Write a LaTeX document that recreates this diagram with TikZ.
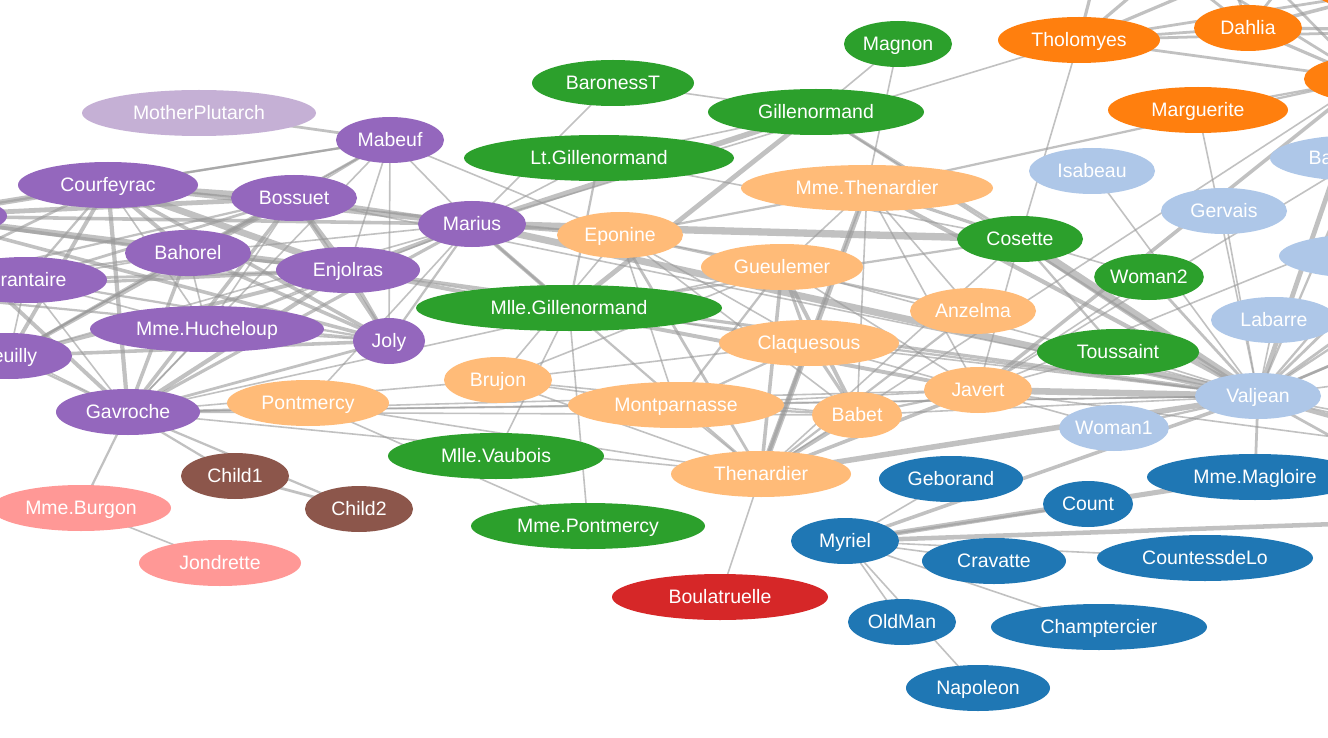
\documentclass[tikz,border=0pt]{standalone}
\usepackage{fontspec}
\newfontfamily\labfont{Liberation Sans}
\usetikzlibrary{shapes.geometric}
\pgfdeclarelayer{edges}
\pgfsetlayers{edges,main}
\definecolor{gA}{HTML}{1F77B4}
\definecolor{gB}{HTML}{AEC7E8}
\definecolor{gC}{HTML}{FF7F0E}
\definecolor{gD}{HTML}{FFBB78}
\definecolor{gE}{HTML}{2CA02C}
\definecolor{gF}{HTML}{98DF8A}
\definecolor{gG}{HTML}{D62728}
\definecolor{gH}{HTML}{FF9896}
\definecolor{gI}{HTML}{9467BD}
\definecolor{gJ}{HTML}{C5B0D5}
\definecolor{gK}{HTML}{8C564B}
\definecolor{linkgray}{HTML}{999999}
\tikzset{
  person/.style 2 args={ellipse, fill=#1, minimum width={#2*1.5pt}, minimum height=34.5pt,
    inner sep=0pt, text=white, font=\labfont\fontsize{14.6}{16}\selectfont,
    text height=11.6pt, text depth=1.2pt},
  link/.style={draw=linkgray, draw opacity=0.6, line cap=butt},
}
\begin{document}
\begin{tikzpicture}[x=0.75pt, y=-0.75pt]
\useasboundingbox (0,0) rectangle (1328,738);
\begin{scope}
\clip (0,0) rectangle (1328,738);
% group 1
\node[person={gA}{54}] (Myriel) at (845,541) {Myriel};
\node[person={gA}{72}] (Napoleon) at (978,688) {Napoleon};
\node[person={gA}{135}] (Baptistine) at (1480,519) {Mlle.Baptistine};
\node[person={gA}{108}] (Magloire) at (1255,477) {Mme.Magloire};
\node[person={gA}{108}] (CountessdeLo) at (1205,558) {CountessdeLo};
\node[person={gA}{72}] (Geborand) at (951,479) {Geborand};
\node[person={gA}{108}] (Champtercier) at (1099,627) {Champtercier};
\node[person={gA}{72}] (Cravatte) at (994,561) {Cravatte};
\node[person={gA}{45}] (Count) at (1088,504) {Count};
\node[person={gA}{54}] (OldMan) at (902,622) {OldMan};
% group 2
\node[person={gB}{63}] (Labarre) at (1274,320) {Labarre};
\node[person={gB}{63}] (Valjean) at (1258,396) {Valjean};
\node[person={gB}{63}] (MmedeR) at (1440,430) {Mme.deR};
\node[person={gB}{63}] (Isabeau) at (1092,171) {Isabeau};
\node[person={gB}{63}] (Gervais) at (1224,211) {Gervais};
\node[person={gB}{90}] (Bamatabois) at (1360,158) {Bamatabois};
\node[person={gB}{72}] (Simplice) at (1470,190) {Simplice};
\node[person={gB}{99}] (Scaufflaire) at (1450,370) {Scaufflaire};
\node[person={gB}{54}] (Woman1) at (1114,428) {Woman1};
\node[person={gB}{45}] (Judge) at (1480,235) {Judge};
\node[person={gB}{108}] (Champmathieu) at (1520,285) {Champmathieu};
\node[person={gB}{54}] (Brevet) at (1450,315) {Brevet};
\node[person={gB}{90}] (Chenildieu) at (1540,210) {Chenildieu};
\node[person={gB}{99}] (Cochepaille) at (1378,256) {Cochepaille};
% group 3
\node[person={gC}{90}] (Marguerite) at (1198,110) {Marguerite};
\node[person={gC}{81}] (Tholomyes) at (1079,40) {Tholomyes};
\node[person={gC}{81}] (Listolier) at (1110,-80) {Listolier};
\node[person={gC}{63}] (Fameuil) at (1215,-75) {Fameuil};
\node[person={gC}{99}] (Blacheville) at (1320,-62) {Blacheville};
\node[person={gC}{81}] (Favourite) at (1395,-10) {Favourite};
\node[person={gC}{54}] (Dahlia) at (1248,28) {Dahlia};
\node[person={gC}{63}] (Zephine) at (1455,30) {Zephine};
\node[person={gC}{63}] (Fantine) at (1367,79) {Fantine};
\node[person={gC}{72}] (Perpetue) at (1490,110) {Perpetue};
% group 4
\node[person={gD}{126}] (MmeThenardier) at (867,188) {Mme.Thenardier};
\node[person={gD}{90}] (Thenardier) at (761,474) {Thenardier};
\node[person={gD}{54}] (Javert) at (978,390) {Javert};
\node[person={gD}{81}] (Pontmercy) at (308,403) {Pontmercy};
\node[person={gD}{63}] (Eponine) at (620,235) {Eponine};
\node[person={gD}{63}] (Anzelma) at (973,311) {Anzelma};
\node[person={gD}{81}] (Gueulemer) at (782,267) {Gueulemer};
\node[person={gD}{45}] (Babet) at (857,415) {Babet};
\node[person={gD}{90}] (Claquesous) at (809,343) {Claquesous};
\node[person={gD}{108}] (Montparnasse) at (676,405) {Montparnasse};
\node[person={gD}{54}] (Brujon) at (498,380) {Brujon};
% group 5
\node[person={gE}{63}] (Cosette) at (1020,239) {Cosette};
\node[person={gE}{54}] (Woman2) at (1149,277) {Woman2};
\node[person={gE}{108}] (Gillenormand) at (816,112) {Gillenormand};
\node[person={gE}{54}] (Magnon) at (898,44) {Magnon};
\node[person={gE}{153}] (MlleGillenormand) at (569,308) {Mlle.Gillenormand};
\node[person={gE}{117}] (MmePontmercy) at (588,526) {Mme.Pontmercy};
\node[person={gE}{108}] (MlleVaubois) at (496,456) {Mlle.Vaubois};
\node[person={gE}{135}] (LtGillenormand) at (599,158) {Lt.Gillenormand};
\node[person={gE}{81}] (BaronessT) at (613,83) {BaronessT};
\node[person={gE}{81}] (Toussaint) at (1118,352) {Toussaint};
% group 0
\node[person={gF}{108}] (Fauchelevent) at (1470,455) {Fauchelevent};
\node[person={gF}{126}] (MotherInnocent) at (1580,470) {MotherInnocent};
\node[person={gF}{63}] (Gribier) at (1590,540) {Gribier};
% others
\node[person={gG}{108}] (Boulatruelle) at (720,597) {Boulatruelle};
\node[person={gH}{81}] (Jondrette) at (220,563) {Jondrette};
\node[person={gH}{90}] (MmeBurgon) at (81,508) {Mme.Burgon};
\node[person={gJ}{117}] (MotherPlutarch) at (199,113) {MotherPlutarch};
\node[person={gK}{54}] (Child1) at (235,476) {Child1};
\node[person={gK}{54}] (Child2) at (359,509) {Child2};
% group 8
\node[person={gI}{72}] (Gavroche) at (128,412) {Gavroche};
\node[person={gI}{54}] (Marius) at (472,224) {Marius};
\node[person={gI}{54}] (Mabeuf) at (390,140) {Mabeuf};
\node[person={gI}{72}] (Enjolras) at (348,270) {Enjolras};
\node[person={gI}{90}] (Combeferre) at (-83,216) {Combeferre};
\node[person={gI}{81}] (Prouvaire) at (-110,292) {Prouvaire};
\node[person={gI}{63}] (Feuilly) at (9,356) {Feuilly};
\node[person={gI}{90}] (Courfeyrac) at (108,185) {Courfeyrac};
\node[person={gI}{63}] (Bahorel) at (188,253) {Bahorel};
\node[person={gI}{63}] (Bossuet) at (294,198) {Bossuet};
\node[person={gI}{36}] (Joly) at (389,341) {Joly};
\node[person={gI}{81}] (Grantaire) at (26,280) {Grantaire};
\node[person={gI}{117}] (MmeHucheloup) at (207,329) {Mme.Hucheloup};
\end{scope}
\begin{pgfonlayer}{edges}
\fill[white] (0,0) rectangle (1328,738);
\clip (0,0) rectangle (1328,738);
\foreach \a/\b/\v in {
Napoleon/Myriel/1, Baptistine/Myriel/8, Magloire/Myriel/10, Magloire/Baptistine/6, CountessdeLo/Myriel/1, Geborand/Myriel/1, Champtercier/Myriel/1, Cravatte/Myriel/1, Count/Myriel/2, OldMan/Myriel/1,
Valjean/Labarre/1, Valjean/Magloire/3, Valjean/Baptistine/3, Valjean/Myriel/5, Marguerite/Valjean/1, MmedeR/Valjean/1, Isabeau/Valjean/1, Gervais/Valjean/1,
Listolier/Tholomyes/4, Fameuil/Tholomyes/4, Fameuil/Listolier/4, Blacheville/Tholomyes/4, Blacheville/Listolier/4, Blacheville/Fameuil/4, Favourite/Tholomyes/3, Favourite/Listolier/3, Favourite/Fameuil/3, Favourite/Blacheville/4, Dahlia/Tholomyes/3, Dahlia/Listolier/3, Dahlia/Fameuil/3, Dahlia/Blacheville/3, Dahlia/Favourite/5, Zephine/Tholomyes/3, Zephine/Listolier/3, Zephine/Fameuil/3, Zephine/Blacheville/3, Zephine/Favourite/4, Zephine/Dahlia/4, Fantine/Tholomyes/3, Fantine/Listolier/3, Fantine/Fameuil/3, Fantine/Blacheville/3, Fantine/Favourite/4, Fantine/Dahlia/4, Fantine/Zephine/4, Fantine/Marguerite/2, Fantine/Valjean/9,
MmeThenardier/Fantine/2, MmeThenardier/Valjean/7, Thenardier/MmeThenardier/13, Thenardier/Fantine/1, Thenardier/Valjean/12, Cosette/MmeThenardier/4, Cosette/Valjean/31, Cosette/Tholomyes/1, Cosette/Thenardier/1, Javert/Valjean/17, Javert/Fantine/5, Javert/Thenardier/5, Javert/MmeThenardier/1, Javert/Cosette/1, Fauchelevent/Valjean/8, Fauchelevent/Javert/1, Bamatabois/Fantine/1, Bamatabois/Javert/1, Bamatabois/Valjean/2, Perpetue/Fantine/1, Simplice/Perpetue/2, Simplice/Valjean/3, Simplice/Fantine/2, Simplice/Javert/1, Scaufflaire/Valjean/1, Woman1/Valjean/2, Woman1/Javert/1, Judge/Valjean/3, Judge/Bamatabois/2, Champmathieu/Valjean/3, Champmathieu/Judge/3, Champmathieu/Bamatabois/2, Brevet/Judge/2, Brevet/Champmathieu/2, Brevet/Valjean/2, Brevet/Bamatabois/1, Chenildieu/Judge/2, Chenildieu/Champmathieu/2, Chenildieu/Brevet/2, Chenildieu/Valjean/2, Chenildieu/Bamatabois/1, Cochepaille/Judge/2, Cochepaille/Champmathieu/2, Cochepaille/Brevet/2, Cochepaille/Chenildieu/2, Cochepaille/Valjean/2, Cochepaille/Bamatabois/1,
Pontmercy/Thenardier/1, Boulatruelle/Thenardier/1, Eponine/MmeThenardier/2, Eponine/Thenardier/3, Anzelma/Eponine/2, Anzelma/Thenardier/2, Anzelma/MmeThenardier/1, Woman2/Valjean/3, Woman2/Cosette/1, Woman2/Javert/1, MotherInnocent/Fauchelevent/3, MotherInnocent/Valjean/1, Gribier/Fauchelevent/2, MmeBurgon/Jondrette/1, Gavroche/MmeBurgon/2, Gavroche/Thenardier/1, Gavroche/Javert/1, Gavroche/Valjean/1, Gillenormand/Cosette/3, Gillenormand/Valjean/2, Magnon/Gillenormand/1, Magnon/MmeThenardier/1, MlleGillenormand/Gillenormand/9, MlleGillenormand/Cosette/2, MlleGillenormand/Valjean/2, MmePontmercy/MlleGillenormand/1, MmePontmercy/Pontmercy/1, MlleVaubois/MlleGillenormand/1, LtGillenormand/MlleGillenormand/2, LtGillenormand/Gillenormand/1, LtGillenormand/Cosette/1,
Marius/MlleGillenormand/6, Marius/Gillenormand/12, Marius/Pontmercy/1, Marius/LtGillenormand/1, Marius/Cosette/21, Marius/Valjean/19, Marius/Tholomyes/1, Marius/Thenardier/2, Marius/Eponine/5, Marius/Gavroche/4, BaronessT/Gillenormand/1, BaronessT/Marius/1, Mabeuf/Marius/1, Mabeuf/Eponine/1, Mabeuf/Gavroche/1, Enjolras/Marius/7, Enjolras/Gavroche/7, Enjolras/Javert/6, Enjolras/Mabeuf/1, Enjolras/Valjean/4, Combeferre/Enjolras/15, Combeferre/Marius/5, Combeferre/Gavroche/6, Combeferre/Mabeuf/2, Prouvaire/Gavroche/1, Prouvaire/Enjolras/4, Prouvaire/Combeferre/2, Feuilly/Gavroche/2, Feuilly/Enjolras/6, Feuilly/Prouvaire/2, Feuilly/Combeferre/5, Feuilly/Mabeuf/1, Feuilly/Marius/1,
Courfeyrac/Marius/9, Courfeyrac/Enjolras/17, Courfeyrac/Combeferre/13, Courfeyrac/Gavroche/7, Courfeyrac/Mabeuf/2, Courfeyrac/Eponine/1, Courfeyrac/Feuilly/6, Courfeyrac/Prouvaire/3, Bahorel/Combeferre/5, Bahorel/Gavroche/5, Bahorel/Courfeyrac/6, Bahorel/Mabeuf/2, Bahorel/Enjolras/4, Bahorel/Feuilly/3, Bahorel/Prouvaire/2, Bahorel/Marius/1, Bossuet/Marius/5, Bossuet/Courfeyrac/12, Bossuet/Gavroche/5, Bossuet/Bahorel/4, Bossuet/Enjolras/10, Bossuet/Feuilly/6, Bossuet/Prouvaire/2, Bossuet/Combeferre/9, Bossuet/Mabeuf/1, Bossuet/Valjean/1, Joly/Bahorel/5, Joly/Bossuet/7, Joly/Gavroche/3, Joly/Courfeyrac/5, Joly/Enjolras/5, Joly/Feuilly/5, Joly/Prouvaire/2, Joly/Combeferre/5, Joly/Mabeuf/1, Joly/Marius/2,
Grantaire/Bossuet/3, Grantaire/Enjolras/3, Grantaire/Combeferre/1, Grantaire/Courfeyrac/2, Grantaire/Joly/2, Grantaire/Gavroche/1, Grantaire/Bahorel/1, Grantaire/Feuilly/1, Grantaire/Prouvaire/1, MotherPlutarch/Mabeuf/3,
Gueulemer/Thenardier/5, Gueulemer/Valjean/1, Gueulemer/MmeThenardier/1, Gueulemer/Javert/1, Gueulemer/Eponine/1, Gueulemer/Gavroche/1, Babet/Thenardier/6, Babet/Gueulemer/6, Babet/Valjean/1, Babet/MmeThenardier/1, Babet/Javert/2, Babet/Gavroche/1, Babet/Eponine/1, Claquesous/Thenardier/4, Claquesous/Babet/4, Claquesous/Gueulemer/4, Claquesous/Valjean/1, Claquesous/MmeThenardier/1, Claquesous/Javert/1, Claquesous/Eponine/1, Claquesous/Enjolras/1, Montparnasse/Javert/1, Montparnasse/Babet/2, Montparnasse/Gueulemer/2, Montparnasse/Claquesous/2, Montparnasse/Valjean/1, Montparnasse/Gavroche/1, Montparnasse/Eponine/1, Montparnasse/Thenardier/1,
Toussaint/Cosette/2, Toussaint/Javert/1, Toussaint/Valjean/1, Child1/Gavroche/2, Child2/Gavroche/2, Child2/Child1/3, Brujon/Babet/1, Brujon/Gueulemer/1, Brujon/Thenardier/1, Brujon/Gavroche/1, Brujon/Eponine/1, Brujon/Claquesous/1, Brujon/Montparnasse/1,
MmeHucheloup/Bossuet/1, MmeHucheloup/Joly/1, MmeHucheloup/Grantaire/1, MmeHucheloup/Bahorel/1, MmeHucheloup/Enjolras/1, MmeHucheloup/Courfeyrac/1, MmeHucheloup/Gavroche/1, MmeHucheloup/Marius/1}
{\draw[link, line width={1.2pt*sqrt(\v)}] (\a.center) -- (\b.center);}
\end{pgfonlayer}
\end{tikzpicture}
\end{document}
